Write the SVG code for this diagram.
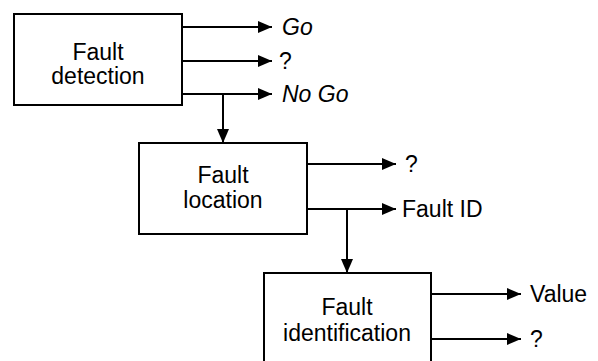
<svg xmlns="http://www.w3.org/2000/svg" width="598" height="361" viewBox="0 0 598 361">
<defs>
<marker id="ah" viewBox="0 0 14 12" refX="14" refY="6" markerWidth="14" markerHeight="12" markerUnits="userSpaceOnUse" orient="auto">
<path d="M0,0 L14,6 L0,12 z" fill="#000"/>
</marker>
<style>
.box{fill:#fff;stroke:#000;stroke-width:2}
.t{font-family:"Liberation Sans",Arial,sans-serif;font-size:23px;fill:#000}
.c{text-anchor:middle}
.i{font-style:italic}
.ln{stroke:#000;stroke-width:2;fill:none}
</style>
</defs>
<rect width="598" height="361" fill="#fff"/>
<g id="connectors">
<line class="ln" x1="182" y1="27" x2="272" y2="27" marker-end="url(#ah)"/>
<line class="ln" x1="182" y1="61" x2="272" y2="61" marker-end="url(#ah)"/>
<line class="ln" x1="182" y1="94" x2="272" y2="94" marker-end="url(#ah)"/>
<line class="ln" x1="223" y1="94" x2="223" y2="143" marker-end="url(#ah)"/>
<line class="ln" x1="307" y1="164" x2="396" y2="164" marker-end="url(#ah)"/>
<line class="ln" x1="307" y1="209" x2="396" y2="209" marker-end="url(#ah)"/>
<line class="ln" x1="347" y1="209" x2="347" y2="273" marker-end="url(#ah)"/>
<line class="ln" x1="431" y1="294" x2="521" y2="294" marker-end="url(#ah)"/>
<line class="ln" x1="431" y1="339" x2="521" y2="339" marker-end="url(#ah)"/>
</g>
<g id="n-detection">
<rect class="box" x="14" y="14" width="168" height="91"/>
<text class="t c" x="98" y="60">Fault</text>
<text class="t c" x="98" y="84">detection</text>
</g>
<g id="n-location">
<rect class="box" x="139" y="143" width="168" height="91"/>
<text class="t c" x="223" y="183">Fault</text>
<text class="t c" x="223" y="208">location</text>
</g>
<g id="n-identification">
<rect class="box" x="264" y="273" width="167" height="100"/>
<text class="t c" x="347" y="315">Fault</text>
<text class="t c" x="347" y="341">identification</text>
</g>
<g id="labels">
<text class="t i" x="282" y="35">Go</text>
<text class="t" x="279" y="69">?</text>
<text class="t i" x="282" y="102">No Go</text>
<text class="t" x="405" y="172">?</text>
<text class="t" x="402" y="217">Fault ID</text>
<text class="t" x="530" y="302">Value</text>
<text class="t" x="530" y="347">?</text>
</g>
</svg>
